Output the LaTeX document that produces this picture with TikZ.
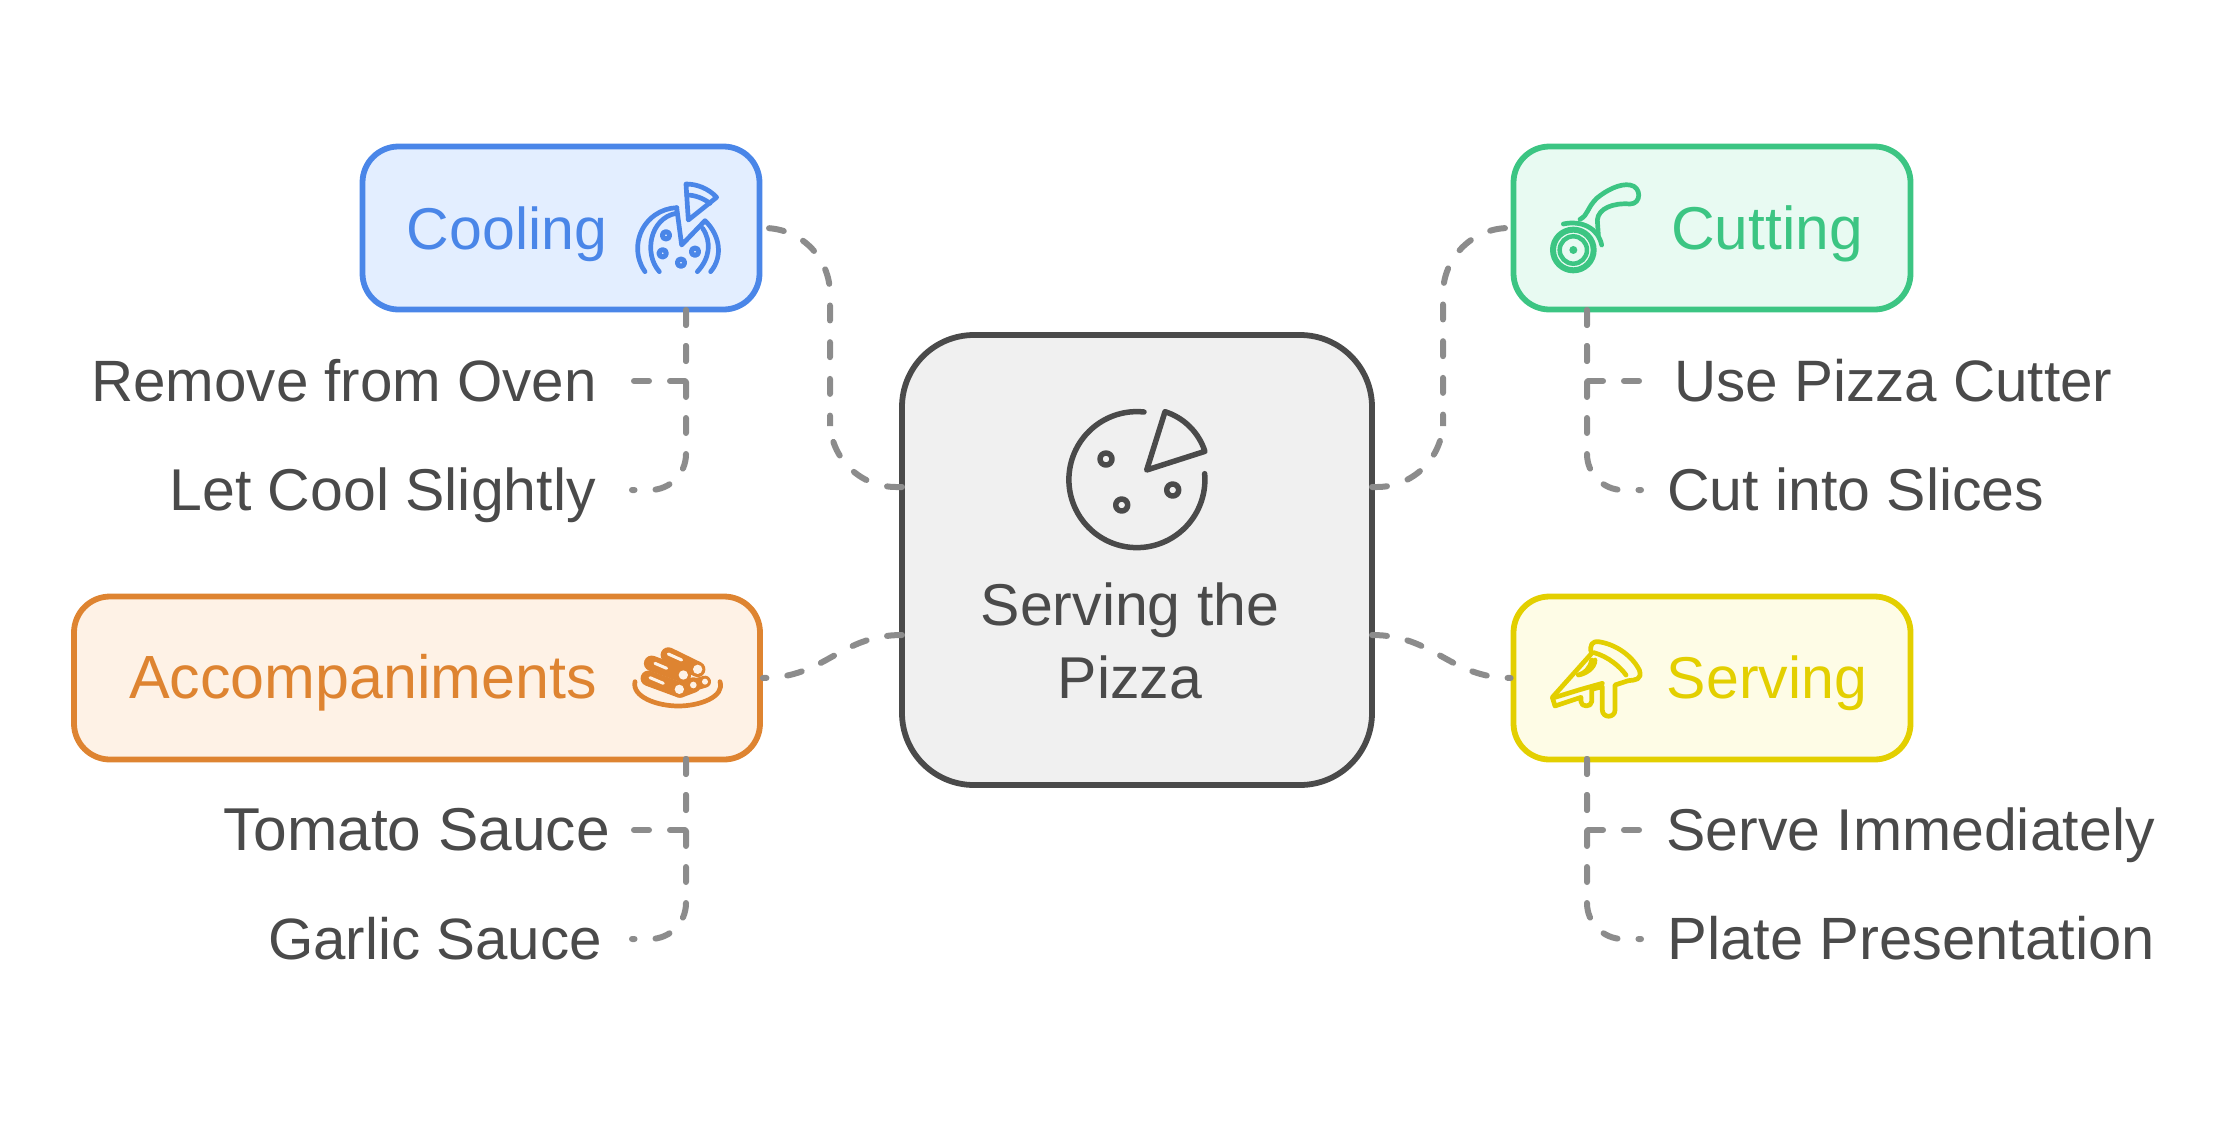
\documentclass[tikz,border=0pt]{standalone}
\usepackage{fontspec}
\setmainfont{Liberation Sans}
\definecolor{inkgray}{HTML}{4A4A4A}
\definecolor{linkgray}{HTML}{8C8C8C}
\definecolor{coolblue}{HTML}{4A86E8}
\definecolor{coolfill}{HTML}{E3EEFF}
\definecolor{cutgreen}{HTML}{3CC583}
\definecolor{cutfill}{HTML}{E8FAF2}
\definecolor{sidesorange}{HTML}{DE8431}
\definecolor{sidesfill}{HTML}{FEF2E6}
\definecolor{serveyellow}{HTML}{E3CF00}
\definecolor{servefill}{HTML}{FEFCE6}
\begin{document}
\begin{tikzpicture}[x=1pt,y=-1pt]
\tikzset{box/.style = {draw,line width=5.8pt,rounded corners=36pt,inner sep=0pt},
         label/.style = {inner sep=0pt,text height=41pt,text depth=0pt,font=\fontsize{59}{70}\selectfont},
         link/.style = {draw=linkgray,line width=6pt,line cap=round,dash pattern=on 15pt off 21pt},
         icon/.style = {x=.3333pt,y=-.3333pt,line width=4.7pt,line cap=round,line join=round}}
\useasboundingbox (0,0) rectangle (2238,1122);
% boxes
\node[box,draw=inkgray,fill=black!6,rounded corners=72pt,minimum width=470pt,minimum height=450pt] (pizza) at (1137,560) {};
\node[box,draw=coolblue,fill=coolfill,minimum width=397pt,minimum height=163pt] (cooling) at (561,228) {};
\node[box,draw=cutgreen,fill=cutfill,minimum width=397pt,minimum height=163pt] (cutting) at (1712,228) {};
\node[box,draw=sidesorange,fill=sidesfill,minimum width=686pt,minimum height=163pt] (sides) at (417,678) {};
\node[box,draw=serveyellow,fill=servefill,minimum width=397pt,minimum height=163pt] (serving) at (1712,678) {};
% texts
\node[label,text=coolblue] (coolingText) at (507,229) {Cooling};
\node[label,text=cutgreen,font=\fontsize{60.5}{70}\selectfont] (cuttingText) at (1767,229) {Cutting};
\node[label,text=sidesorange,font=\fontsize{61}{70}\selectfont] (sidesText) at (363,678) {Accompaniments};
\node[label,text=serveyellow] (servingText) at (1767,678) {Serving};
\node[inner sep=0pt,align=center,text=inkgray,font=\fontsize{59}{73}\selectfont] (pizzaText) at (1130,641) {Serving the\\Pizza};
\node[label,text=inkgray,anchor=east,font=\fontsize{58.3}{70}\selectfont] (oven) at (597,381) {Remove from Oven};
\node[label,text=inkgray,anchor=east] (cool) at (596,490) {Let Cool Slightly};
\node[label,text=inkgray,anchor=east,font=\fontsize{60.5}{70}\selectfont] (tomato) at (610,830) {Tomato Sauce};
\node[label,text=inkgray,anchor=east,font=\fontsize{58.3}{70}\selectfont] (garlic) at (602,939) {Garlic Sauce};
\node[label,text=inkgray,anchor=west,font=\fontsize{58.4}{70}\selectfont] (cutter) at (1674,381) {Use Pizza Cutter};
\node[label,text=inkgray,anchor=west] (slices) at (1667,490) {Cut into Slices};
\node[label,text=inkgray,anchor=west] (serve) at (1666,830) {Serve Immediately};
\node[label,text=inkgray,anchor=west,font=\fontsize{59.7}{70}\selectfont] (plate) at (1667,939) {Plate Presentation};
% connector ends
\coordinate (pizzaA) at (902,487);
\coordinate (pizzaB) at (902,635);
\coordinate (pizzaC) at (1372,487);
\coordinate (pizzaD) at (1372,635);
\coordinate (coolingFoot) at (686,310);
\coordinate (cuttingFoot) at (1587,310);
\coordinate (sidesFoot) at (686,759);
\coordinate (servingFoot) at (1587,759);
\coordinate (ovenEnd) at (632,381);
\coordinate (coolEnd) at (632,490);
\coordinate (tomatoEnd) at (632,830);
\coordinate (garlicEnd) at (632,939);
\coordinate (cutterEnd) at (1641,381);
\coordinate (slicesEnd) at (1641,490);
\coordinate (serveEnd) at (1641,830);
\coordinate (plateEnd) at (1641,939);
\coordinate (leftBend) at (830,360);
\coordinate (rightBend) at (1443,360);
% connectors
\draw[link,dash pattern=on 15pt off 21.7pt,rounded corners=66pt] (pizzaA) -| (leftBend) |- (cooling.east);
\draw[link,dash pattern=on 15pt off 21.7pt,rounded corners=66pt] (pizzaC) -| (rightBend) |- (cutting.west);
\draw[link] (pizzaB) .. controls (840,635) and (825,678) .. (sides.east);
\draw[link] (pizzaD) .. controls (1434,635) and (1450,678) .. (serving.west);
\draw[link] (coolingFoot) |- (ovenEnd);
\draw[link,rounded corners=36pt] (coolingFoot) |- (coolEnd);
\draw[link] (sidesFoot) |- (tomatoEnd);
\draw[link,rounded corners=36pt] (sidesFoot) |- (garlicEnd);
\draw[link] (cuttingFoot) |- (cutterEnd);
\draw[link,rounded corners=36pt] (cuttingFoot) |- (slicesEnd);
\draw[link] (servingFoot) |- (serveEnd);
\draw[link,rounded corners=36pt] (servingFoot) |- (plateEnd);
% main pizza icon
\begin{scope}[draw=inkgray,line width=5.5pt,line cap=round,line join=round]
\draw (1144,412) arc[start angle=-84,end angle=-365,radius=68];
\draw (1146.7,470) -- (1165,411.7) arc[start angle=-72.6,end angle=-17.7,radius=61] -- cycle;
\draw (1106,459) circle[radius=6];
\draw (1172.7,490) circle[radius=6];
\draw (1121.7,505) circle[radius=6];
\end{scope}
% cooling icon
\begin{scope}[shift={(620,170)},icon,draw=coolblue]
\draw (75,305) arc[start angle=145,end angle=268,radius=122];
\draw (118,305) .. controls (70,250) and (90,145) .. (168,130);
\draw (170,113) -- (185,225) -- (255,152) .. controls (300,195) and (310,260) .. (272,305);
\draw (248,175) .. controls (275,215) and (270,265) .. (232,305);
\draw (198,42) -- (205,150) -- (290,82) .. controls (265,55) and (230,42) .. cycle;
\draw (200,75) .. controls (225,75) and (250,85) .. (270,100);
\foreach \tx/\ty in {138/196,128/250,183/278,225/245}
  \draw[line width=5pt] (\tx,\ty) circle[radius=11];
\end{scope}
% cutting icon
\begin{scope}[shift={(1500,130)},icon,draw=cutgreen]
\draw[line width=6pt] (220,360) circle[radius=61];
\draw[line width=4.5pt] (220,360) circle[radius=41];
\fill[cutgreen] (220,360) circle[radius=12];
\draw (190,282) .. controls (245,270) and (295,295) .. (305,345);
\draw (240,268) .. controls (265,255) and (260,235) .. (290,205) .. controls (320,180) and (360,160) .. (390,165) .. controls (425,170) and (425,222) .. (390,222) .. controls (340,218) and (295,235) .. (292,270) -- (295,315);
\end{scope}
% accompaniments icon
\begin{scope}[shift={(600,630)},icon,draw=sidesorange]
\draw (105,155) .. controls (95,200) and (170,228) .. (235,228) .. controls (300,228) and (375,200) .. (360,155);
\draw[line width=15.5pt] (155,100) -- (250,135);
\draw[line width=15.5pt] (205,75) -- (293,118);
\draw[line width=15.5pt] (145,145) -- (240,180);
\draw[line width=15.5pt] (240,180) -- (280,165);
\draw[line width=12pt] (280,165) -- (315,155);
\draw[sidesfill,line width=3pt] (165,100) -- (200,115);
\draw[sidesfill,line width=3pt] (205,72) -- (245,90);
\draw[sidesfill,line width=3pt] (150,143) -- (190,160);
\foreach \tx/\ty/\tr in {250/135/14,293/118/14,238/178/14,280/165/10,315/155/9}
  \fill[sidesfill] (\tx,\ty) circle[radius=\tr];
\end{scope}
% serving icon
\begin{scope}[shift={(1520,620)},icon,draw=serveyellow]
\draw (97,232) -- (215,100) .. controls (205,75) and (220,62) .. (235,65) .. controls (285,72) and (335,105) .. (358,150) .. controls (368,180) and (345,180) .. (325,182) -- (285,195) -- (285,270) .. controls (285,295) and (247,295) .. (247,270) -- (247,200) -- (215,208) -- (215,245) .. controls (215,262) and (183,262) .. (183,245) -- (183,232) -- (105,258) -- cycle;
\draw (105,232) -- (183,208) -- (247,190);
\draw (222,98) .. controls (265,110) and (300,140) .. (318,165);
\draw (215,120) .. controls (210,145) and (195,160) .. (175,165) .. controls (195,162) and (225,145) .. (225,120);
\end{scope}
\end{tikzpicture}
\end{document}
